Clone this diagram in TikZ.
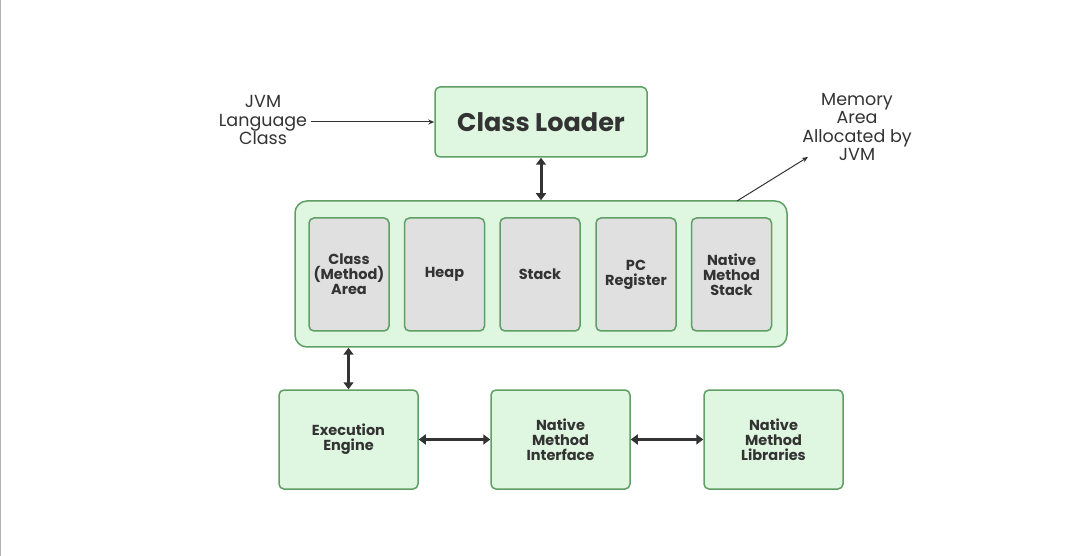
\documentclass[tikz,border=0pt]{standalone}
\usepackage{fontspec}
\setmainfont{Poppins}
\usepackage{xcolor}
\usetikzlibrary{arrows.meta}

\definecolor{boxgreen}{HTML}{DFF6E0}
\definecolor{edgegreen}{HTML}{5E9F64}
\definecolor{cellgray}{HTML}{E0E0E0}
\definecolor{inkgray}{HTML}{333333}

\begin{document}
\begin{tikzpicture}[
        x=1pt, y=-1pt,
        box/.style={
            draw=edgegreen,
            line width=1.5pt,
            fill=boxgreen,
            rounded corners=5pt,
            align=center,
            inner sep=0pt,
            text=inkgray,
            font=\fontsize{14.5}{15}\selectfont\bfseries
        },
        cell/.style={
            box,
            fill=cellgray,
            minimum width=80pt,
            minimum height=113pt
        },
        unit/.style={
            box,
            minimum width=139pt,
            minimum height=99pt
        },
        note/.style={
            align=center,
            text=inkgray,
            font=\fontsize{17.5}{18.5}\selectfont
        },
        link/.style={
            draw=inkgray,
            line width=3pt,
            {Triangle[length=7pt,width=10pt]}-{Triangle[length=7pt,width=10pt]}
        },
        pointer/.style={
            draw=inkgray,
            line width=1pt,
            -{Stealth[length=6pt,width=5pt]}
        }
    ]
    \useasboundingbox (0,0) rectangle (1080,556);
    \draw[black!30, line width=0.8pt] (0.4,0) -- (0.4,556);

    % top row
    \node[box, minimum width=212pt, minimum height=70pt,
          font=\fontsize{25.5}{27}\selectfont\bfseries] (loader) at (541,122) {Class Loader};
    \node[note] (jvmclass) at (263,120) {JVM\\Language\\Class};
    \node[note] (memlabel) at (857,127) {Memory\\Area\\Allocated by\\JVM};
    \coordinate (memfoot) at (737,201);
    \coordinate (memtip) at (808,157);

    % memory area
    \node[box, minimum width=492pt, minimum height=146pt, rounded corners=12pt] (memory) at (541,274) {};
    \node[cell] (method) at (349,274.5) {Class\\(Method)\\Area};
    \node[cell] (heap) at (444.5,274.5) {Heap};
    \node[cell] (stack) at (540,274.5) {Stack};
    \node[cell] (pcreg) at (636,274.5) {PC\\Register};
    \node[cell] (nstack) at (731.5,274.5) {Native\\Method\\Stack};

    % bottom row
    \node[unit] (engine) at (348.5,439.5) {Execution\\Engine};
    \node[unit] (interface) at (560.5,439.5) {Native\\Method\\Interface};
    \node[unit] (libraries) at (773.5,439.5) {Native\\Method\\Libraries};

    % connectors
    \draw[pointer] (jvmclass.east |- loader.west) -- (loader.west);
    \draw[pointer] (memfoot) -- (memtip);
    \draw[link] (loader.south) -- (memory.north);
    \draw[link] (memory.south -| engine.north) -- (engine.north);
    \draw[link] (engine.east) -- (interface.west);
    \draw[link] (interface.east) -- (libraries.west);
\end{tikzpicture}
\end{document}
